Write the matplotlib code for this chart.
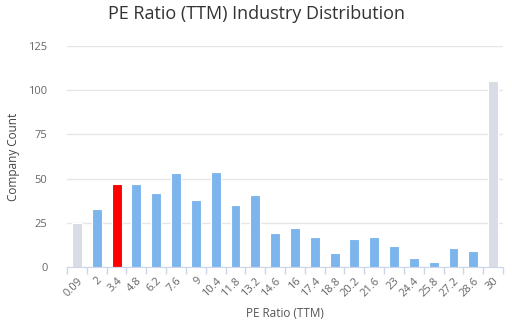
import matplotlib.pyplot as plt
import numpy as np

# datos
categories = ['0.09', '2', '3.4', '4.8', '6.2', '7.6', '9', '10.4', '11.8', '13.2', '14.6',
              '16', '17.4', '18.8', '20.2', '21.6', '23', '24.4', '25.8', '27.2', '28.6', '30']
counts = [25, 33, 47, 47, 42, 53, 38, 54, 35, 41, 19,
          22, 17, 8, 16, 17, 12, 5, 3, 11, 9, 105]
highlight = '3.4'
edge_bins = ['0.09', '30']

blue = '#7cb5ec'
grey = '#d8dce5'
red = '#ff0000'

plt.rcParams['font.family'] = ['Open Sans', 'DejaVu Sans']

fig = plt.figure(figsize=(5.12, 3.21), dpi=100)
ax = fig.add_axes([67 / 512, 1 - 267 / 321, 436 / 512, 221 / 321])

colors = []
for c in categories:
    if c == highlight:
        colors.append(red)
    elif c in edge_bins:
        colors.append(grey)
    else:
        colors.append(blue)

x = np.arange(len(categories))
ax.bar(x, counts, width=0.5, color=colors, edgecolor='white', linewidth=0.8, zorder=3)

ax.set_xlim(-0.5, len(categories) - 0.5)
ax.set_ylim(0, 125)
ax.set_yticks([0, 25, 50, 75, 100, 125])
ax.grid(axis='y', color='#e6e6e6', linewidth=1, zorder=0)

ax.set_xticks(x)
ax.set_xticklabels(categories, rotation=45, ha='right', rotation_mode='anchor',
                   fontsize=8, color='#666666')
ax.set_xticks(np.arange(-0.5, len(categories)), minor=True)
ax.tick_params(axis='x', which='major', length=0, pad=6)
ax.tick_params(axis='x', which='minor', length=5, color='#ccd6eb', width=1)
ax.tick_params(axis='y', length=0, pad=14, labelsize=8, labelcolor='#666666')

for s in ['top', 'right', 'left']:
    ax.spines[s].set_visible(False)
ax.spines['bottom'].set_color('#ccd6eb')
ax.spines['bottom'].set_zorder(4)

ax.set_xlabel('PE Ratio (TTM)', fontsize=8.5, color='#555555', labelpad=6)
ax.set_ylabel('Company Count', fontsize=8.5, color='#444444', labelpad=6)

fig.text(0.5, 1 - 14 / 321, 'PE Ratio (TTM) Industry Distribution', ha='center', va='center',
         fontsize=13, color='#333333')

fig.savefig('out.png', dpi=100)
